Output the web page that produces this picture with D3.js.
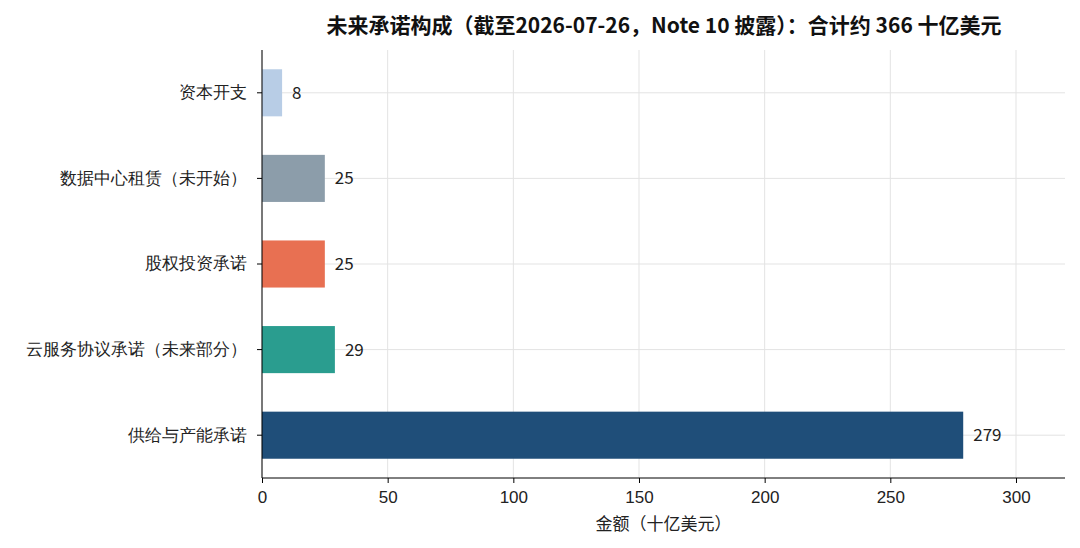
<!DOCTYPE html>
<html><head><meta charset="utf-8">
<script src="https://cdn.jsdelivr.net/npm/d3@7"></script>
<style>body{margin:0;background:#fff;font-family:"Noto Sans CJK SC","Noto Sans",sans-serif}</style>
</head><body><svg id="chart" width="1080" height="548"></svg>
<script>
const categories = ["资本开支", "数据中心租赁（未开始）", "股权投资承诺", "云服务协议承诺（未来部分）", "供给与产能承诺"];
const values = [8, 25, 25, 29, 279];
const colors = ["#b8cde6", "#8c9daa", "#e87052", "#2a9d8f", "#1f4e79"];
const xTicks = [0, 50, 100, 150, 200, 250, 300];

const svg = d3.select("#chart");
const m = {left: 262, right: 1065, top: 50, bottom: 478};

const x = d3.scaleLinear().domain([0, 319.5]).range([m.left, m.right]);
const y = d3.scaleBand().domain(categories).range([m.top, m.bottom]).paddingInner(0.45).paddingOuter(0.225);

// grid
svg.append("g").selectAll("line").data(xTicks).join("line")
  .attr("x1", d => x(d)).attr("x2", d => x(d)).attr("y1", m.top).attr("y2", m.bottom)
  .attr("stroke", "#e3e3e3");
svg.append("g").selectAll("line").data(categories).join("line")
  .attr("x1", m.left).attr("x2", m.right)
  .attr("y1", d => y(d) + y.bandwidth() / 2).attr("y2", d => y(d) + y.bandwidth() / 2)
  .attr("stroke", "#e3e3e3");

// bars
svg.append("g").selectAll("rect").data(values).join("rect")
  .attr("x", x(0)).attr("y", (d, i) => y(categories[i]))
  .attr("width", d => x(d) - x(0)).attr("height", y.bandwidth())
  .attr("fill", (d, i) => colors[i]);

svg.append("g").selectAll("text").data(values).join("text")
  .attr("x", d => x(d) + 10).attr("y", (d, i) => y(categories[i]) + y.bandwidth() / 2)
  .attr("dy", "0.35em").attr("font-size", 17).attr("fill", "#222").text(d => d);

// axes
const xa = svg.append("g").attr("transform", `translate(0,${m.bottom})`)
  .call(d3.axisBottom(x).tickValues(xTicks).tickSize(5).tickSizeOuter(0));
xa.select(".domain").attr("stroke", "#000").attr("d", `M${m.left},0H${m.right}`);
xa.selectAll("text").attr("font-size", 17).attr("fill", "#222").attr("dy", "1em");

const ya = svg.append("g").attr("transform", `translate(${m.left},0)`)
  .call(d3.axisLeft(y).tickSize(5).tickSizeOuter(0));
ya.select(".domain").attr("stroke", "#000").attr("d", `M0,${m.top}V${m.bottom}`);
ya.selectAll("text").attr("font-size", 17).attr("fill", "#222").attr("dx", "-0.4em");

svg.append("text").attr("x", (m.left + m.right) / 2).attr("y", 530)
  .attr("text-anchor", "middle").attr("font-size", 17).attr("fill", "#222").text("金额（十亿美元）");

svg.append("text").attr("x", 664).attr("y", 33)
  .attr("text-anchor", "middle").attr("font-size", 21).attr("font-weight", "bold").attr("fill", "#111")
  .text("未来承诺构成（截至2026-07-26，Note 10 披露）：合计约 366 十亿美元");
</script></body></html>
